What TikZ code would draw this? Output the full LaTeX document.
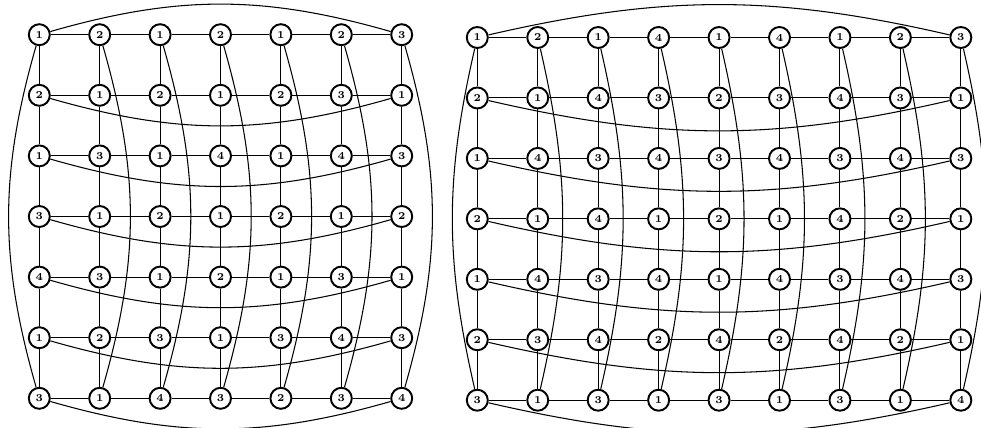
\documentclass[tikz,border=0pt]{standalone}
\tikzset{
  vert/.style={draw, circle, line width=1.1pt, minimum size=0.42cm, inner sep=0pt, font=\fontsize{6}{7}\selectfont\bfseries},
  link/.style={line width=0.6pt},
}
\begin{document}
\begin{tikzpicture}[x=0.02cm, y=0.02cm]
    \useasboundingbox (0,0) rectangle (981,427);
    % left grid, 7 x 7
    \foreach \row [count=\r] in {{1,2,1,2,1,2,3},{2,1,2,1,2,3,1},{1,3,1,4,1,4,3},{3,1,2,1,2,1,2},{4,3,1,2,1,3,1},{1,2,3,1,3,4,3},{3,1,4,3,2,3,4}} {
      \foreach \lab [count=\c] in \row {
        \node[vert] (l-\r-\c) at ({39.3+(\c-1)*60.4}, {392.3-(\r-1)*60.6}) {\lab};
      }
    }
    % right grid, 7 x 9
    \foreach \row [count=\r] in {{1,2,1,4,1,4,1,2,3},{2,1,4,3,2,3,4,3,1},{1,4,3,4,3,4,3,4,3},{2,1,4,1,2,1,4,2,1},{1,4,3,4,1,4,3,4,3},{2,3,4,2,4,2,4,2,1},{3,1,3,1,3,1,3,1,4}} {
      \foreach \lab [count=\c] in \row {
        \node[vert] (r-\r-\c) at ({477.3+(\c-1)*60.44}, {389.5-(\r-1)*60.45}) {\lab};
      }
    }
    % grid edges
    \foreach \r in {1,...,7} {
      \foreach \c in {1,...,6} {
        \pgfmathtruncatemacro{\d}{\c+1}
        \draw[link] (l-\r-\c) -- (l-\r-\d);
      }
      \foreach \c in {1,...,8} {
        \pgfmathtruncatemacro{\d}{\c+1}
        \draw[link] (r-\r-\c) -- (r-\r-\d);
      }
    }
    \foreach \r in {1,...,6} {
      \pgfmathtruncatemacro{\s}{\r+1}
      \foreach \c in {1,...,7} \draw[link] (l-\r-\c) -- (l-\s-\c);
      \foreach \c in {1,...,9} \draw[link] (r-\r-\c) -- (r-\s-\c);
    }
    % wrap-around edges
    \draw[link] (l-1-1) to[bend left=16] (l-1-7);
    \foreach \r in {2,...,7} \draw[link] (l-\r-1) to[bend right=16] (l-\r-7);
    \draw[link] (l-1-1) to[bend right=16] (l-7-1);
    \foreach \c in {2,...,7} \draw[link] (l-1-\c) to[bend left=16] (l-7-\c);
    \draw[link] (r-1-1) to[bend left=13] (r-1-9);
    \foreach \r in {2,...,7} \draw[link] (r-\r-1) to[bend right=13] (r-\r-9);
    \draw[link] (r-1-1) to[bend right=13] (r-7-1);
    \foreach \c in {2,...,9} \draw[link] (r-1-\c) to[bend left=13] (r-7-\c);
\end{tikzpicture}
\end{document}
